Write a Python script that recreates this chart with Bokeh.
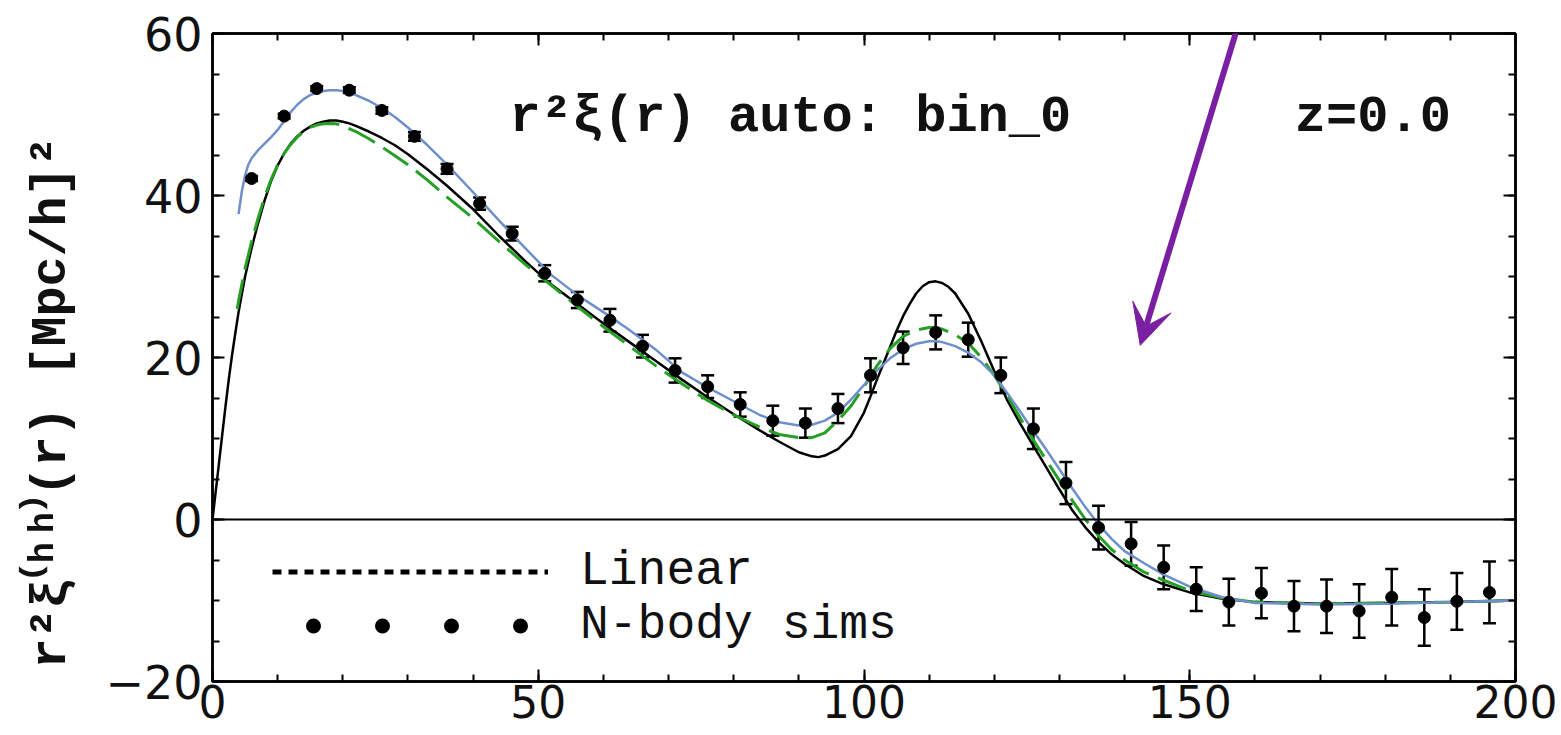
from bokeh.plotting import figure
from bokeh.models import (Range1d, FixedTicker, LinearAxis, Span, Label, Legend, LegendItem,
                          Whisker, TeeHead, ColumnDataSource, Arrow, VeeHead, CustomLabelingPolicy)
from bokeh.embed import file_html
from bokeh.resources import INLINE

# ---------------- data ----------------
sim_r = [6, 11, 16, 21, 26, 31, 36, 41, 46, 51, 56, 61, 66, 71, 76, 81, 86, 91, 96,
         101, 106, 111, 116, 121, 126, 131, 136, 141, 146, 151, 156, 161, 166, 171,
         176, 181, 186, 191, 196]
sim_y = [42.1, 49.8, 53.2, 53.0, 50.5, 47.3, 43.3, 39.0, 35.3, 30.4, 27.1, 24.6, 21.4,
         18.4, 16.4, 14.2, 12.2, 11.9, 13.7, 17.8, 21.2, 23.1, 22.2, 17.8, 11.2, 4.5,
         -1.0, -3.0, -5.9, -8.6, -10.2, -9.1, -10.7, -10.7, -11.3, -9.6, -12.1, -10.1, -9.0]
sim_err = [0.3, 0.3, 0.3, 0.35, 0.4, 0.55, 0.6, 0.75, 0.85, 1.0, 1.0, 1.4, 1.4, 1.5, 1.4,
           1.5, 1.85, 1.8, 1.8, 2.1, 2.0, 2.1, 2.1, 2.2, 2.5, 2.6, 2.7, 2.7, 2.7, 2.7, 2.9,
           3.1, 3.1, 3.3, 3.3, 3.5, 3.5, 3.5, 3.8]

lin_r = [0, 0.5, 1, 1.5, 2, 2.5, 3, 3.5, 4, 5, 6, 7, 8, 9, 10, 11, 12, 13, 14, 15, 16, 17,
         18, 19, 20, 21, 22, 24, 26, 28, 30, 33, 36, 40, 44, 48, 52, 56, 60, 64, 68, 72,
         76, 80, 84, 87, 90, 92, 93, 94, 96, 98, 100, 101, 102, 103, 104, 105, 106, 107,
         108, 109, 110, 111, 112, 113, 114, 116, 118, 120, 122, 124, 126, 128, 130, 132,
         134, 136, 138, 140, 143, 146, 150, 155, 160, 170, 180, 190, 200]
lin_y = [0, 3.5, 7, 10.5, 14, 17.3, 20.3, 23, 25.6, 30, 33.5, 36.6, 39.4, 41.8, 43.7, 45.2,
         46.4, 47.3, 48, 48.5, 48.9, 49.1, 49.25, 49.25, 49.1, 48.9, 48.6, 47.9, 47.1, 46.2,
         45.1, 43.2, 41.2, 38.3, 35.0, 31.9, 29.0, 26.6, 24.2, 21.9, 19.6, 17.3, 15.1, 13.0,
         11.0, 9.6, 8.3, 7.8, 7.7, 7.9, 8.7, 10.3, 13.2, 15.2, 17.3, 19.3, 21.3, 23.3, 25.1,
         26.6, 27.9, 28.8, 29.3, 29.4, 29.2, 28.7, 27.9, 25.4, 22.0, 18.3, 14.7, 11.8, 9.1,
         6.4, 3.7, 1.1, -1.0, -2.8, -4.3, -5.5, -7.0, -8.0, -9.0, -9.8, -10.2, -10.4, -10.3,
         -10.2, -10.0]

fit_r = [4, 4.5, 5, 5.5, 6, 7, 8, 9, 10, 11, 12, 13, 14, 15, 16, 17, 18, 19, 20, 21, 22, 24,
         26, 28, 30, 33, 36, 40, 44, 48, 52, 56, 60, 64, 68, 72, 76, 80, 84, 87, 90, 92, 94,
         96, 98, 100, 102, 104, 106, 108, 110, 111, 112, 114, 116, 118, 120, 122, 124, 126,
         128, 130, 132, 134, 136, 138, 140, 143, 146, 150, 155, 160, 170, 180, 190, 200]
fit_y = [37.7, 40.5, 42.5, 43.8, 44.6, 45.6, 46.4, 47.2, 48.1, 49.2, 50.3, 51.2, 51.9, 52.4,
         52.7, 52.9, 53.0, 53.0, 52.9, 52.7, 52.4, 51.7, 50.8, 49.7, 48.4, 46.2, 43.8, 40.4,
         36.9, 33.5, 30.2, 27.7, 25.6, 23.4, 21.0, 18.2, 16.3, 14.6, 12.9, 12.0, 11.6, 11.7,
         12.2, 13.2, 14.8, 16.6, 18.4, 19.9, 21.0, 21.7, 22.0, 22.0, 21.9, 21.4, 20.6, 19.4,
         17.8, 15.6, 13.3, 10.9, 8.6, 6.2, 3.8, 1.5, -0.6, -2.4, -3.9, -5.4, -6.8, -8.3,
         -9.6, -10.3, -10.5, -10.4, -10.2, -10.0]

alt_r = [3.8, 4, 5, 6, 7, 8, 9, 10, 11, 12, 13, 14, 15, 16, 17, 18, 19, 20, 22, 24, 26, 28,
         30, 33, 36, 40, 44, 48, 52, 56, 60, 64, 68, 72, 76, 80, 84, 87, 90, 92, 94, 96, 98,
         100, 102, 104, 106, 108, 110, 111, 112, 114, 116, 118, 120, 122, 124, 126, 128, 130,
         132, 134, 136, 138, 140, 143, 146, 150, 155, 160, 170, 180, 190, 200]
alt_y = [26, 27, 31, 34.3, 37.2, 39.8, 42, 43.8, 45.2, 46.3, 47.2, 47.9, 48.4, 48.7, 48.85,
         48.9, 48.85, 48.6, 47.9, 47.0, 46.0, 44.9, 43.8, 41.9, 39.8, 37.2, 34.3, 31.5, 28.9,
         26.3, 23.8, 21.4, 19.0, 16.8, 14.7, 12.9, 11.4, 10.5, 10.1, 10.1, 10.7, 12.2, 14.0,
         16.4, 19.0, 21.1, 22.6, 23.4, 23.7, 23.7, 23.5, 22.8, 21.8, 20.0, 17.8, 15.3, 12.5,
         9.8, 7.3, 4.8, 2.3, 0.0, -2.0, -3.7, -5.0, -6.5, -7.5, -8.8, -9.7, -10.2, -10.4,
         -10.3, -10.2, -10.0]

x_ticks = [0, 50, 100, 150, 200]
y_ticks = [-20, 0, 20, 40, 60]
y_tick_labels = {-20: "\u221220", 0: "0", 20: "20", 40: "40", 60: "60"}

title_text = "r\u00b2\u03be(r) auto: bin_0"
z_text = "z=0.0"
ylabel_text = "r\u00b2\u03be\u207d\u02b0\u02b0\u207e(r)    [Mpc/h]\u00b2"
legend_labels = ["Linear", "N-body sims"]

# ---------------- styles ----------------
BLUE = "#6f8fca"
GREEN = "#25a025"
PURPLE = "#7b1fa2"
TICK_FONT = "DejaVu Sans"
MONO = "Liberation Mono"

p = figure(width=1561, height=735, x_range=Range1d(0, 200), y_range=Range1d(-20, 60),
           output_backend="svg", toolbar_location=None,
           min_border_left=212, min_border_right=46, min_border_top=33, min_border_bottom=54)
p.xgrid.visible = False
p.ygrid.visible = False
p.outline_line_color = "black"
p.outline_line_width = 2.5
p.background_fill_color = "white"
p.border_fill_color = "white"

xt = FixedTicker(ticks=x_ticks, minor_ticks=list(range(0, 201, 10)))
yt = FixedTicker(ticks=y_ticks, minor_ticks=list(range(-20, 61, 5)))

no_labels = CustomLabelingPolicy(code="for (const i of Array.from(indices)) { indices.unset(i) }\nreturn indices")

def style_axis(ax, labels=True, size="44px"):
    ax.axis_line_width = 2.5
    ax.major_tick_in = 12
    ax.major_tick_out = 0
    ax.minor_tick_in = 7
    ax.minor_tick_out = 0
    ax.major_tick_line_width = 2
    ax.minor_tick_line_width = 2
    ax.major_tick_line_color = "black"
    ax.minor_tick_line_color = "black"
    ax.axis_line_color = "black"
    if labels:
        ax.major_label_text_font = TICK_FONT
        ax.major_label_text_font_size = size
        ax.major_label_text_color = "#111111"
    else:
        ax.major_label_policy = no_labels
        ax.major_label_standoff = 0

p.xaxis.ticker = xt
p.yaxis.ticker = yt
style_axis(p.xaxis[0], size="44px")
style_axis(p.yaxis[0], size="46px")
p.xaxis.major_label_standoff = 3
p.yaxis.major_label_standoff = 10
p.yaxis.major_label_overrides = y_tick_labels
p.yaxis.axis_label = ylabel_text
p.yaxis.axis_label_text_font = MONO
p.yaxis.axis_label_text_font_style = "bold"
p.yaxis.axis_label_text_font_size = "50px"
p.yaxis.axis_label_standoff = 22
p.yaxis.axis_label_text_color = "#111111"

top_ax = LinearAxis(ticker=xt)
right_ax = LinearAxis(ticker=yt)
style_axis(top_ax, labels=False)
style_axis(right_ax, labels=False)
p.add_layout(top_ax, "above")
p.add_layout(right_ax, "right")

p.add_layout(Span(location=0, dimension="width", line_color="black", line_width=2))

# curves
p.line(lin_r, lin_y, line_color="black", line_width=2.5)
p.line(alt_r, alt_y, line_color=GREEN, line_width=3, line_dash="30 10")
p.line(fit_r, fit_y, line_color=BLUE, line_width=2.5)

# simulation points with error bars
upper = [y + e for y, e in zip(sim_y, sim_err)]
lower = [y - e for y, e in zip(sim_y, sim_err)]
src = ColumnDataSource(dict(x=sim_r, y=sim_y, upper=upper, lower=lower))
p.add_layout(Whisker(source=src, base="x", upper="upper", lower="lower",
                     line_color="black", line_width=2.5,
                     upper_head=TeeHead(size=13, line_width=2.5, line_color="black"),
                     lower_head=TeeHead(size=13, line_width=2.5, line_color="black")))
p.scatter("x", "y", source=src, size=12, color="black")

# texts
p.add_layout(Label(x=88.7, y=49.6, text=title_text, text_align="center", text_baseline="middle",
                   text_font=MONO, text_font_style="bold", text_font_size="52px",
                   text_color="#111111"))
p.add_layout(Label(x=178.1, y=49.6, text=z_text, text_align="center", text_baseline="middle",
                   text_font=MONO, text_font_style="bold", text_font_size="52px",
                   text_color="#111111"))

# legend sample glyphs: renderers kept outside the visible ranges, shown only in the legend
hidden = ColumnDataSource(dict(x=[-50, -40], y=[-50, -50]))
dotted = p.line("x", "y", source=hidden, line_color="black", line_width=5, line_dash="9 7")
dots = p.line("x", "y", source=hidden, line_color="black", line_width=15, line_cap="round",
              line_dash="0 69", line_dash_offset=28)
legend = Legend(items=[LegendItem(label=legend_labels[0], renderers=[dotted]),
                       LegendItem(label=legend_labels[1], renderers=[dots])],
                location=(60, 29), glyph_width=276, glyph_height=45, label_height=45,
                label_standoff=32, spacing=-9, padding=0, margin=0,
                border_line_alpha=0, background_fill_alpha=0,
                label_text_font=MONO, label_text_font_size="48px", label_text_color="#111111")
p.add_layout(legend)

# purple annotation arrow
p.add_layout(Arrow(end=VeeHead(size=40, fill_color=PURPLE, line_color=PURPLE),
                   x_start=158.6, y_start=64.1, x_end=142.4, y_end=21.5,
                   line_color=PURPLE, line_width=6, level="overlay"))

open("out.html", "w").write(file_html(p, INLINE))
